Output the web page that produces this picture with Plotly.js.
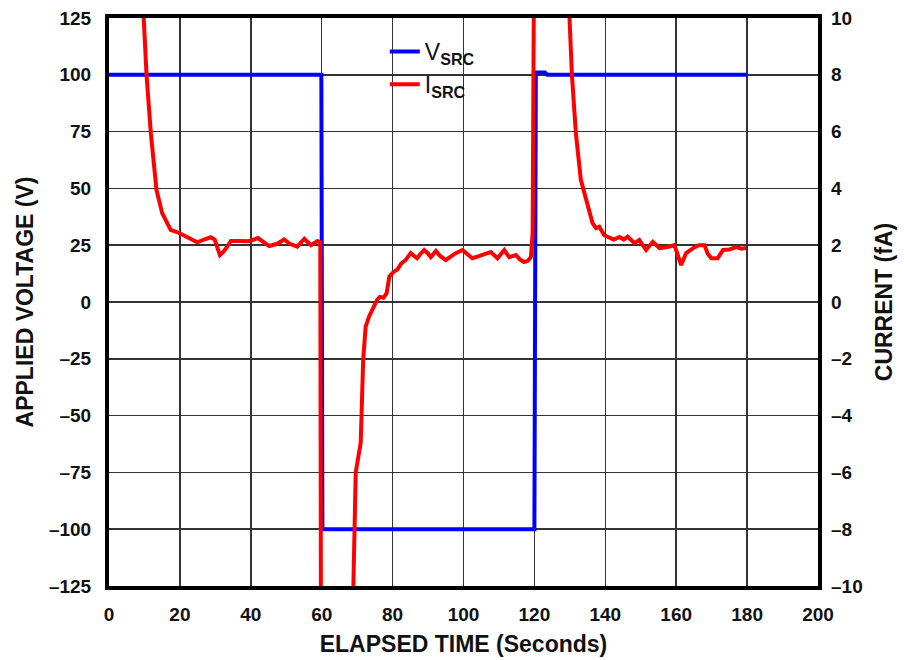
<!DOCTYPE html>
<html>
<head>
<meta charset="utf-8">
<script src="https://cdn.plot.ly/plotly-3.0.1.min.js"></script>
<style>html,body{margin:0;padding:0;background:#fff;}#chart{width:904px;height:660px;}</style>
</head>
<body>
<div id="chart"></div>
<script>
// Applied voltage V_SRC (V) vs elapsed time (s)
var vTime = [0, 59.9, 60.2, 120.0, 120.4, 123.0, 123.6, 180];
var vVolt = [100, 100, -100, -100, 101, 101, 100, 100];

// Current I_SRC (fA) vs elapsed time (s)
var iTime = [9.0, 9.7, 10.6, 11.8, 13.4, 15.0, 17.4, 19.8, 22.0, 23.5, 24.9, 26.8, 28.7, 29.8, 31.3, 32.5, 34.4, 37.0, 39.5, 42.0, 43.5, 45.2, 47.5, 49.4, 51.0, 53.1, 55.1, 57.0, 58.8, 59.6, 59.8,
  68.6, 69.6, 71.0, 71.7, 72.4, 73.4, 74.5, 75.6, 76.4, 77.4, 78.3, 79.1, 80.2, 81.4, 82.4, 83.7, 85.1, 86.1, 86.9, 87.9, 88.9, 89.9, 90.8, 92.2, 93.4, 95.0, 96.4, 97.8, 99.7, 101.1, 102.5, 103.9, 105.4, 107.7, 109.6, 111.5, 112.9, 114.8, 115.9, 117.1, 118.2, 119.0, 119.5, 119.8, 119.9,
  129.7, 129.9, 130.6, 131.7, 133.1, 134.6, 136.4, 137.4, 138.3, 139.7, 141.1, 142.4, 144.0, 145.2, 146.3, 148.2, 149.6, 151.5, 153.4, 155.3, 157.2, 159.5, 161.4, 162.8, 165.2, 166.4, 168.0, 168.9, 169.9, 171.7, 173.2, 175.0, 176.9, 178.4, 179.7];
var iCurr = [12, 10, 7.96, 5.95, 3.94, 3.13, 2.54, 2.43, 2.29, 2.2, 2.1, 2.2, 2.28, 2.2, 1.65, 1.8, 2.15, 2.15, 2.14, 2.25, 2.1, 1.97, 2.05, 2.2, 2.05, 1.95, 2.22, 2.0, 2.15, 2.1, -12,
  -12, -6.0, -4.96, -2.04, -0.87, -0.5, -0.2, 0.07, 0.18, 0.15, 0.3, 0.9, 1.05, 1.15, 1.35, 1.48, 1.72, 1.6, 1.54, 1.7, 1.83, 1.72, 1.58, 1.8, 1.62, 1.48, 1.6, 1.72, 1.83, 1.68, 1.54, 1.6, 1.65, 1.76, 1.54, 1.83, 1.58, 1.65, 1.5, 1.41, 1.45, 1.58, 2.43, 10, 12,
  12, 10, 7.96, 5.94, 4.3, 3.59, 2.78, 2.6, 2.65, 2.35, 2.29, 2.2, 2.29, 2.2, 2.3, 2.07, 2.18, 1.83, 2.12, 1.9, 1.93, 2.0, 1.3, 1.72, 1.93, 2.0, 2.0, 1.7, 1.54, 1.54, 1.83, 1.85, 1.93, 1.88, 1.9];

var xTicks = [0, 20, 40, 60, 80, 100, 120, 140, 160, 180, 200];
var yTicks = [125, 100, 75, 50, 25, 0, -25, -50, -75, -100, -125];
var yTickText = ['125', '100', '75', '50', '25', '0', '\u201325', '\u201350', '\u201375', '\u2013100', '\u2013125'];
var y2Ticks = [10, 8, 6, 4, 2, 0, -2, -4, -6, -8, -10];
var y2TickText = ['10', '8', '6', '4', '2', '0', '\u20132', '\u20134', '\u20136', '\u20138', '\u201310'];

var FONT = 'Liberation Sans, Arial, sans-serif';
var tickFont = {family: FONT, size: 19, color: '#111', weight: 'bold'};
var titleFont = {family: FONT, size: 23, color: '#111', weight: 'bold'};

var traces = [
  {x: vTime, y: vVolt, type: 'scatter', mode: 'lines', name: 'V<sub><b>SRC</b></sub>',
   line: {color: '#0000ff', width: 4}, yaxis: 'y'},
  {x: iTime, y: iCurr, type: 'scatter', mode: 'lines', name: 'I<sub><b>SRC</b></sub>',
   line: {color: '#ff0000', width: 4}, yaxis: 'y2'}
];

var layout = {
  width: 904, height: 660,
  margin: {l: 109, r: 86, t: 18, b: 74},
  paper_bgcolor: '#fff', plot_bgcolor: '#fff',
  showlegend: true,
  legend: {x: 0.389, y: 0.979, xanchor: 'left', yanchor: 'top', bgcolor: 'rgba(255,255,255,0)',
    font: {family: FONT, size: 23, color: '#111'}, tracegroupgap: 0},
  xaxis: {range: [0, 200], tickvals: xTicks, ticktext: xTicks.map(String), tickfont: tickFont,
    showgrid: true, gridcolor: '#333', gridwidth: 1.5, zeroline: false,
    showline: true, linecolor: '#000', linewidth: 4, mirror: true, ticks: '', ticklabelstandoff: 8,
    title: {text: 'ELAPSED TIME (Seconds)', font: titleFont, standoff: 13}},
  yaxis: {range: [-125, 125], tickvals: yTicks, ticktext: yTickText, tickfont: tickFont,
    showgrid: true, gridcolor: '#333', gridwidth: 1.5, zeroline: false,
    showline: true, linecolor: '#000', linewidth: 4, mirror: true, ticks: '', ticklabelstandoff: 10,
    title: {text: 'APPLIED VOLTAGE (V)', font: titleFont, standoff: 10}},
  yaxis2: {range: [-10, 10], tickvals: y2Ticks, ticktext: y2TickText, tickfont: tickFont,
    overlaying: 'y', side: 'right', showgrid: false, zeroline: false, showline: false,
    ticks: '', ticklabelstandoff: 12,
    title: {text: 'CURRENT (fA)', font: titleFont, standoff: 14}},
  shapes: [
    {type: 'rect', xref: 'paper', yref: 'paper', x0: 0.343, x1: 0.557, y0: 0.835, y1: 0.995,
     fillcolor: '#fff', line: {width: 0}, layer: 'between'}
  ]
};

Plotly.newPlot('chart', traces, layout, {displayModeBar: false, staticPlot: true});
</script>
</body>
</html>
